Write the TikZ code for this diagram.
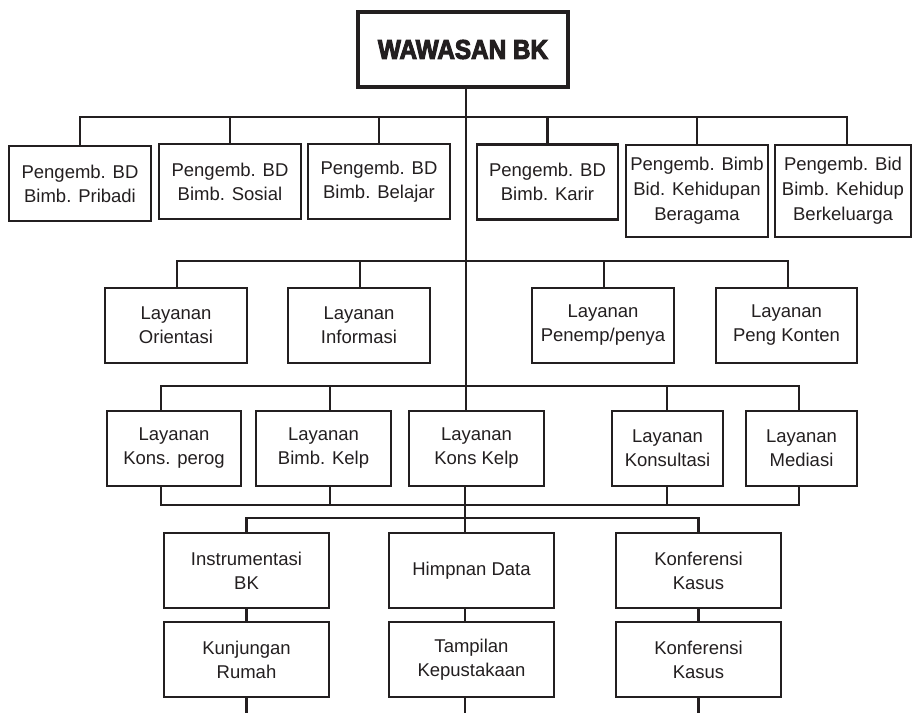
\documentclass[tikz,border=0pt]{standalone}
\usepackage{fontspec}
\usepackage{graphicx}
\setmainfont{Liberation Sans}
\newfontfamily\titlefont[FakeBold=4]{Liberation Sans Bold}
\definecolor{ink}{HTML}{231F20}
\begin{document}
\begin{tikzpicture}[x=1pt,y=-1pt,
  box/.style={draw=ink, line width=2.8pt, inner sep=0pt, align=center, text=ink,
    font=\fontsize{18.5}{24}\selectfont, minimum height=75},
  tallbox/.style={box, minimum height=92, font=\fontsize{18.5}{25}\selectfont},
  conn/.style={draw=ink, line width=2.8pt}]
\useasboundingbox (0,0) rectangle (912,712);
\fill[white] (0,0) rectangle (912,712);

% title
\node[draw=ink, line width=3.5pt, minimum width=210, minimum height=75, inner sep=0pt, text=ink,
  font=\titlefont\fontsize{27}{30}\selectfont] (title) at (463,49.5) {\scalebox{0.9}[1]{WAWASAN BK}};

% row 1
\node[box, minimum width=142] (p1) at (80,183.5) {Pengemb. BD\\Bimb. Pribadi};
\node[box, minimum width=142] (p2) at (230,181.5) {Pengemb. BD\\Bimb. Sosial};
\node[box, minimum width=142] (p3) at (379,181.5) {Pengemb. BD\\Bimb. Belajar};
\node[box, minimum width=141] (p4) at (547.5,182) {Pengemb. BD\\Bimb. Karir};
\node[tallbox, minimum width=142] (p5) at (697,191) {Pengemb. Bimb\\Bid. Kehidupan\\Beragama};
\node[tallbox, minimum width=136] (p6) at (843,191) {Pengemb. Bid\\Bimb. Kehidup\\Berkeluarga};

% row 2
\node[box, minimum width=142] (l1) at (176,325.5) {Layanan\\Orientasi};
\node[box, minimum width=142] (l2) at (359,325.5) {Layanan\\Informasi};
\node[box, minimum width=142] (l3) at (603,325.5) {Layanan\\Penemp/penya};
\node[box, minimum width=141] (l4) at (786.5,325.5) {Layanan\\Peng Konten};

% row 3
\node[box, minimum width=134] (k1) at (174,448.5) {Layanan\\Kons. perog};
\node[box, minimum width=135] (k2) at (323.5,448.5) {Layanan\\Bimb. Kelp};
\node[box, minimum width=135] (k3) at (476.5,448.5) {Layanan\\Kons Kelp};
\node[box, minimum width=111] (k4) at (667.5,448.5) {Layanan\\Konsultasi};
\node[box, minimum width=111] (k5) at (801.5,448.5) {Layanan\\Mediasi};

% row 4
\node[box, minimum width=165] (i1) at (246.5,570.5) {Instrumentasi\\BK};
\node[box, minimum width=165] (i2) at (471.5,570.5) {Himpnan Data};
\node[box, minimum width=165] (i3) at (698.5,570.5) {Konferensi\\Kasus};

% row 5
\node[box, minimum width=165] (j1) at (246.5,659.5) {Kunjungan\\Rumah};
\node[box, minimum width=165] (j2) at (471.5,659.5) {Tampilan\\Kepustakaan};
\node[box, minimum width=165] (j3) at (698.5,659.5) {Konferensi\\Kasus};

% helper coordinates
\coordinate (spine) at (466,0);
\coordinate (spineb) at (465,0);
\coordinate (r1) at (0,117);
\coordinate (r2) at (0,261);
\coordinate (r3) at (0,386);
\coordinate (r3b) at (0,505);
\coordinate (r4) at (0,518);
\coordinate (bot) at (0,714);
\coordinate (x1) at (161,0);
\coordinate (x2) at (330,0);
\coordinate (x4) at (667,0);
\coordinate (x5) at (799,0);

% spine
\draw[conn] (title.south -| spine) -- (k3.north -| spine);
\draw[conn] (k3.south -| spineb) -- (i2.north -| spineb);
\draw[conn] (i2.south -| spineb) -- (j2.north -| spineb);
\draw[conn] (j2.south -| spineb) -- (bot -| spineb);

% row 1 bus
\draw[conn] (p1.north) |- ([xshift=4pt]p6.north |- r1) -- ([xshift=4pt]p6.north);
\foreach \n in {p2,p3,p4,p5} \draw[conn] (\n.north) -- (\n.north |- r1);

% row 2 bus
\draw[conn] ([xshift=1pt]l1.north) |- ([xshift=1.5pt]l4.north |- r2) -- ([xshift=1.5pt]l4.north);
\foreach \n in {l2,l3} \draw[conn] ([xshift=1pt]\n.north) -- ([xshift=1pt]\n.north |- r2);

% row 3 buses
\draw[conn] (k1.north -| x1) |- (r3 -| x5) -- (k5.north -| x5);
\draw[conn] (k2.north -| x2) -- (r3 -| x2);
\draw[conn] (k4.north -| x4) -- (r3 -| x4);
\draw[conn] (k1.south -| x1) |- (r3b -| x5) -- (k5.south -| x5);
\draw[conn] (k2.south -| x2) -- (r3b -| x2);
\draw[conn] (k4.south -| x4) -- (r3b -| x4);

% row 4 bus
\draw[conn] (i1.north) |- (i3.north |- r4) -- (i3.north);

% row 4 to row 5 and tails
\draw[conn] (i1.south) -- (j1.north);
\draw[conn] (i3.south) -- (j3.north);
\draw[conn] (j1.south) -- (j1.south |- bot);
\draw[conn] (j3.south) -- (j3.south |- bot);
\end{tikzpicture}
\end{document}
